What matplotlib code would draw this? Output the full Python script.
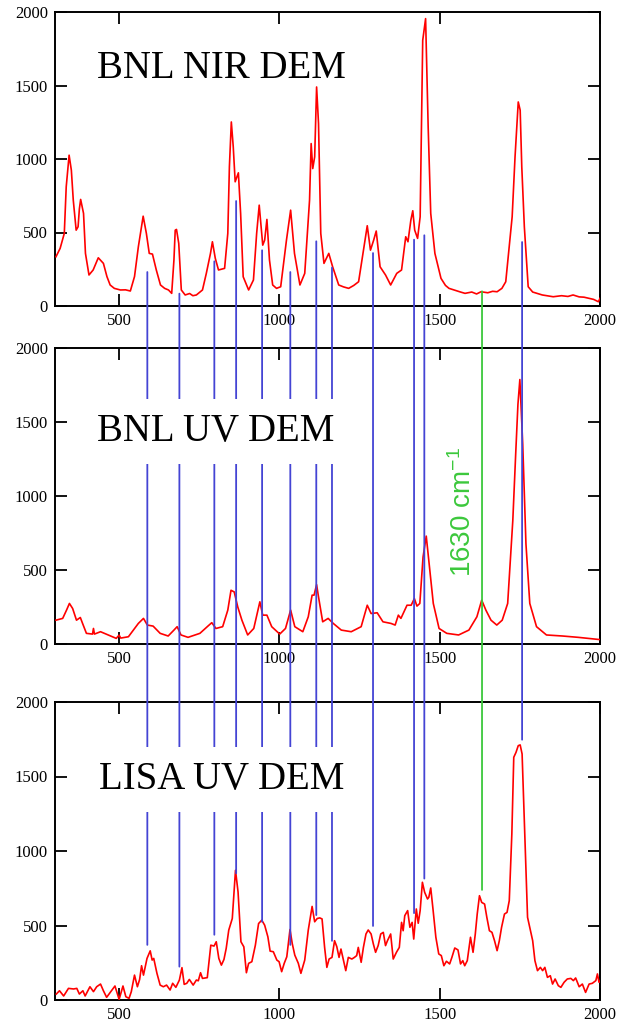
import matplotlib
matplotlib.use("Agg")
import matplotlib.pyplot as plt
from matplotlib.patches import ConnectionPatch

plt.rcParams['font.family'] = ['Liberation Serif', 'DejaVu Serif']
plt.rcParams['mathtext.fontset'] = 'custom'
plt.rcParams['mathtext.rm'] = 'Liberation Sans'
plt.rcParams['mathtext.it'] = 'Liberation Sans:italic'
plt.rcParams['mathtext.bf'] = 'Liberation Sans:bold'

# ---------------- data ----------------
panel_titles = ["BNL NIR DEM", "BNL UV DEM", "LISA UV DEM"]
x_ticks = [500, 1000, 1500, 2000]
y_ticks = [0, 500, 1000, 1500, 2000]

nir_spectrum = [
    (303, 335), (316, 392), (329, 494), (335, 811), (344, 1026), (351, 924), (357, 720),
    (366, 516), (372, 539), (376, 660), (380, 725), (389, 630), (395, 358), (406, 211),
    (419, 245), (435, 328), (451, 290), (462, 200), (472, 143), (485, 120), (504, 109),
    (520, 110), (535, 102), (548, 200), (560, 403), (575, 611), (585, 494), (594, 358),
    (604, 353), (616, 245), (629, 143), (642, 120), (654, 109), (664, 86), (671, 313),
    (675, 516), (679, 521), (686, 426), (694, 109), (706, 75), (720, 85), (730, 70),
    (741, 75), (760, 109), (772, 222), (785, 358), (791, 437), (800, 324),
    (810, 245), (829, 256), (839, 494), (844, 947), (850, 1252), (856, 1083), (862, 845),
    (872, 906), (879, 630), (887, 199), (904, 109), (919, 177), (929, 494), (937, 686),
    (948, 414), (954, 448), (961, 589), (969, 313), (979, 143), (991, 120), (1004, 131),
    (1022, 448), (1035, 652), (1047, 358), (1064, 143), (1079, 222), (1094, 720),
    (1099, 1105), (1104, 935), (1110, 1015), (1116, 1490), (1122, 1241), (1129, 494),
    (1139, 290), (1154, 358), (1166, 267), (1185, 143), (1200, 130), (1216, 120),
    (1232, 140), (1247, 165), (1264, 403), (1274, 546), (1284, 380), (1294, 448),
    (1302, 510), (1314, 267), (1331, 211), (1347, 143), (1366, 222), (1381, 245),
    (1394, 471), (1401, 437), (1410, 584), (1416, 648), (1422, 516), (1431, 460),
    (1439, 607), (1447, 1807), (1456, 1955), (1464, 1219), (1472, 630), (1485, 358),
    (1504, 188), (1518, 140), (1529, 120), (1550, 105), (1565, 95), (1579, 86),
    (1600, 95), (1615, 82), (1629, 97), (1650, 90), (1665, 100), (1679, 97),
    (1694, 120), (1706, 165), (1726, 607), (1735, 1015), (1745, 1388), (1751, 1332),
    (1756, 947), (1764, 539), (1776, 131), (1790, 95), (1804, 86), (1820, 75),
    (1835, 70), (1854, 63), (1880, 70), (1900, 65), (1916, 75), (1935, 62), (1950, 60),
    (1966, 52), (1980, 45), (1995, 29), (2000, 52),
]

uv_spectrum = [
    (303, 161), (324, 173), (336, 229), (345, 274), (355, 240), (367, 161), (379, 179),
    (386, 139), (398, 72), (417, 67), (420, 105), (423, 67), (442, 83), (466, 61),
    (491, 38), (500, 60), (505, 40), (529, 49),
    (560, 139), (576, 173), (588, 128), (606, 121), (628, 72), (653, 54), (671, 94),
    (681, 117), (693, 61), (715, 45), (752, 72), (777, 121), (789, 144), (802, 105),
    (823, 117), (839, 229), (849, 363), (859, 352), (870, 251), (883, 161), (901, 61),
    (920, 105), (939, 285), (948, 195), (961, 195), (976, 117), (1001, 67), (1019, 105),
    (1035, 229), (1048, 117), (1073, 83), (1090, 184), (1102, 330), (1108, 330),
    (1116, 401), (1122, 318), (1135, 150), (1152, 173), (1168, 139), (1193, 94),
    (1224, 83), (1255, 117), (1274, 262), (1286, 206), (1305, 211), (1323, 150),
    (1348, 139), (1361, 128), (1371, 195), (1379, 173), (1398, 262), (1411, 262),
    (1421, 307), (1429, 256), (1438, 274), (1448, 587), (1458, 729), (1467, 543),
    (1480, 274), (1498, 105), (1522, 72), (1559, 61), (1591, 94), (1616, 184),
    (1631, 296), (1644, 229), (1660, 161), (1678, 128), (1695, 161), (1712, 274),
    (1728, 834), (1737, 1283), (1744, 1619), (1750, 1787), (1759, 1350), (1769, 677),
    (1781, 274), (1802, 117), (1833, 61), (1883, 54), (1932, 45), (1994, 31), (2000, 30),
]

lisa_spectrum = [
    (304, 40), (314, 62), (327, 27), (342, 78), (358, 74), (368, 78), (376, 40),
    (387, 62), (394, 27), (409, 89), (420, 56), (430, 89), (442, 107), (451, 62),
    (461, 18), (487, 94), (494, 45), (500, 4), (512, 94), (521, 22), (531, 11),
    (538, 56), (548, 167), (557, 89), (564, 138), (570, 230), (576, 167), (587, 279),
    (597, 330), (603, 268), (608, 279), (618, 179), (628, 100), (638, 89), (648, 100),
    (659, 67), (667, 112), (677, 85), (688, 134), (696, 217), (703, 105), (711, 112),
    (719, 138), (731, 100), (741, 134), (747, 129), (754, 183), (760, 145), (775, 150),
    (786, 368), (796, 362), (803, 391), (811, 279), (819, 234), (827, 272), (834, 346),
    (842, 469), (853, 547), (858, 714), (863, 871), (871, 725), (880, 391), (889, 357),
    (897, 183), (904, 246), (914, 257), (925, 368), (935, 513), (945, 536), (954, 502),
    (964, 424), (971, 328), (981, 324), (992, 268), (999, 257), (1007, 190), (1015, 246),
    (1023, 290), (1033, 473), (1040, 379), (1048, 301), (1059, 246), (1067, 179),
    (1079, 268), (1090, 469), (1102, 628), (1110, 525), (1118, 547), (1126, 551),
    (1133, 544), (1141, 353), (1148, 219), (1155, 275), (1164, 286), (1172, 398),
    (1179, 358), (1186, 286), (1192, 342), (1199, 275), (1207, 197), (1215, 286),
    (1226, 275), (1234, 286), (1241, 298), (1246, 353), (1255, 253), (1262, 353),
    (1270, 443), (1277, 470), (1286, 443), (1293, 376), (1300, 320), (1308, 365),
    (1316, 443), (1324, 454), (1331, 365), (1337, 398), (1347, 443), (1355, 275),
    (1365, 320), (1374, 353), (1381, 521), (1386, 465), (1391, 566), (1400, 600),
    (1407, 488), (1414, 521), (1419, 409), (1427, 611), (1433, 515), (1439, 600),
    (1446, 790), (1453, 723), (1462, 678), (1466, 689), (1472, 752), (1479, 611),
    (1488, 421), (1497, 309), (1505, 298), (1513, 230), (1521, 260), (1531, 242),
    (1538, 286), (1547, 349), (1557, 336), (1565, 242), (1572, 264), (1578, 230),
    (1586, 264), (1596, 421), (1604, 320), (1611, 443), (1617, 577), (1624, 700),
    (1631, 655), (1640, 644), (1647, 555), (1655, 465), (1663, 454), (1671, 398),
    (1679, 331), (1686, 398), (1693, 488), (1702, 577), (1710, 588), (1717, 667),
    (1725, 1114), (1731, 1629), (1738, 1662), (1745, 1707), (1751, 1712), (1757, 1651),
    (1766, 1069), (1774, 555), (1782, 477), (1790, 398), (1797, 264), (1805, 197),
    (1814, 219), (1821, 197), (1828, 219), (1836, 152), (1845, 163), (1852, 107),
    (1860, 141), (1870, 96), (1878, 85), (1888, 119), (1898, 141), (1909, 145),
    (1917, 130), (1924, 148), (1935, 89), (1945, 107), (1955, 51), (1966, 107),
    (1976, 112), (1987, 130), (1992, 175), (1997, 119), (2000, 125),
]

# assigned bands: position, top end (in NIR panel), bottom end (in LISA panel)
band_x = [588, 688, 797, 865, 946, 1034, 1115, 1164, 1292, 1420, 1452, 1757]
band_top = [231, 84, 304, 714, 379, 231, 440, 261, 360, 451, 481, 435]
band_bottom = [370, 224, 438, 850, 525, 370, 570, 397, 497, 583, 815, 1747]
water_x, water_top, water_bottom = 1632, 100, 739
water_label = "1630 cm$^{\\mathrm{-1}}$"

# ---------------- figure ----------------
W, H = 627, 1024
fig = plt.figure(figsize=(W / 100, H / 100), dpi=100)
left, width = 55 / W, 545 / W
ax1 = fig.add_axes([left, 1 - 306 / H, width, 294 / H])
ax2 = fig.add_axes([left, 1 - 644 / H, width, 296 / H])
ax3 = fig.add_axes([left, 1 - 1000 / H, width, 298 / H])
axes = [ax1, ax2, ax3]
spectra = [nir_spectrum, uv_spectrum, lisa_spectrum]

for ax, spec in zip(axes, spectra):
    xs = [p[0] for p in spec]
    ys = [p[1] for p in spec]
    ax.plot(xs, ys, color='#ff0000', lw=1.2, zorder=3)
    ax.set_xlim(300, 2000)
    ax.set_ylim(0, 2000)
    ax.set_xticks(x_ticks)
    ax.set_yticks(y_ticks)
    ax.tick_params(direction='in', length=8.5, width=1.3, top=True, right=True,
                   labelsize=12, pad=5, colors='black')
    for s in ax.spines.values():
        s.set_linewidth(1.4)
    ax.set_facecolor('none')

blue = '#4444d4'
green = '#3cc83c'
for bx, bt, bb in zip(band_x, band_top, band_bottom):
    con = ConnectionPatch(xyA=(bx, bt), coordsA=ax1.transData,
                          xyB=(bx, bb), coordsB=ax3.transData,
                          color=blue, lw=1.3, zorder=1)
    fig.add_artist(con)
con = ConnectionPatch(xyA=(water_x, water_top), coordsA=ax1.transData,
                      xyB=(water_x, water_bottom), coordsB=ax3.transData,
                      color=green, lw=1.3, zorder=1)
fig.add_artist(con)

ax1.text(431, 1551, panel_titles[0], fontsize=28, va='baseline', ha='left')
fig.text(431, 1372, panel_titles[1], fontsize=28, va='baseline', ha='left',
         transform=ax2.transData, zorder=5,
         bbox=dict(facecolor='white', edgecolor='none', pad=10))
fig.text(436, 1415, panel_titles[2], fontsize=28, va='baseline', ha='left',
         transform=ax3.transData, zorder=5,
         bbox=dict(facecolor='white', edgecolor='none', pad=10))

ax2.text(1574, 455, water_label, rotation=90, color=green, fontsize=20,
         family='Liberation Sans', ha='center', va='bottom', zorder=6)

fig.savefig('out.png', dpi=100, facecolor='white')
